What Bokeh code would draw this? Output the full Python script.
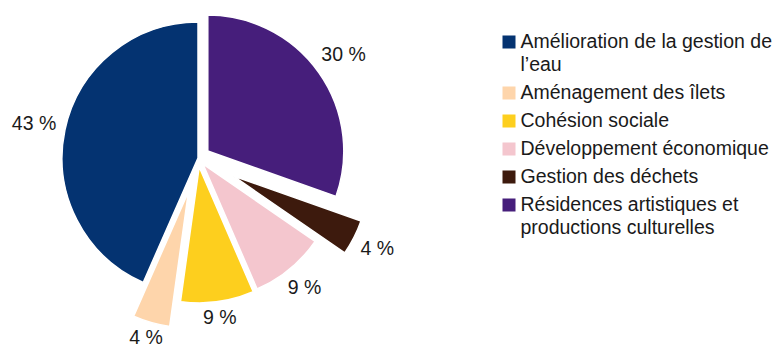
import math
import textwrap
from bokeh.plotting import figure
from bokeh.models import Range1d, ColumnDataSource
from bokeh.core.properties import value
from bokeh.embed import file_html
from bokeh.resources import INLINE

# ---- data ----
categories = [
    "Amélioration de la gestion de l’eau",
    "Aménagement des îlets",
    "Cohésion sociale",
    "Développement économique",
    "Gestion des déchets",
    "Résidences artistiques et productions culturelles",
]
shares = [43.4, 4.4, 8.7, 8.9, 4.2, 30.4]

# ---- style ----
colors = ["#043371", "#fed5ab", "#fdcf1e", "#f4c6ce", "#3d1a0d", "#461e7b"]
explode = [0, 35, 9, 8, 39, 12]   # px offset of each slice
W, H = 781, 349
FONT = "Liberation Sans"
TXT = "#1a1a1a"
cx, cy, R = 197.5, 349 - 157.5, 136
label_fs = 19.5
gap = 8

p = figure(width=W, height=H, output_backend="svg", toolbar_location=None,
           x_range=Range1d(0, W), y_range=Range1d(349 - H, 349),
           min_border=0, outline_line_color=None)
p.axis.visible = False
p.grid.visible = False
p.background_fill_color = "white"
p.border_fill_color = "white"

total = sum(shares)
start = math.pi / 2
xs, ys, sa, ea, lx, ly, lt = [], [], [], [], [], [], []
for v, d in zip(shares, explode):
    span = v / total * 2 * math.pi
    mid = start + span / 2
    ux, uy = math.cos(mid), math.sin(mid)
    x0, y0 = cx + d * ux, cy + d * uy
    xs.append(x0); ys.append(y0)
    sa.append(start); ea.append(start + span)
    txt = f"{round(v / total * 100)} %"
    w = 0.58 * label_fs * len(txt)
    h = 0.68 * label_fs
    ext = abs(ux) * w / 2 + abs(uy) * h / 2
    rl = R + gap + ext
    yy = max(y0 + rl * uy + 1, 349 - H + 0.62 * label_fs)  # keep inside canvas
    lx.append(x0 + rl * ux); ly.append(yy); lt.append(txt)
    start += span

src = ColumnDataSource(dict(x=xs, y=ys, sa=sa, ea=ea, color=colors))
p.wedge(x="x", y="y", radius=R, start_angle="sa", end_angle="ea",
        fill_color="color", line_color="white", line_width=1.5, source=src)

p.text(x=lx, y=ly, text=lt, text_font=value(FONT), text_font_size=f"{label_fs}px",
       text_align="center", text_baseline="middle", text_color=TXT)

# ---- legend (manual, wrapped) ----
leg_x_sq, leg_x_txt = 508.5, 520
line_h, spacing, sq = 23, 5, 13
yline = 41.5  # screen y of first line center
sqx, sqy, sqc, tx, ty, tt = [], [], [], [], [], []
for name, c in zip(categories, colors):
    lines = textwrap.wrap(name, width=29)
    sqx.append(leg_x_sq); sqy.append(349 - yline); sqc.append(c)
    for i, ln in enumerate(lines):
        tx.append(leg_x_txt); ty.append(349 - (yline - 1 + i * line_h)); tt.append(ln)
    yline += len(lines) * line_h + spacing

p.rect(x=sqx, y=sqy, width=sq, height=sq, fill_color=sqc, line_color=None)
p.text(x=tx, y=ty, text=tt, text_font=value(FONT), text_font_size="19.5px",
       text_align="left", text_baseline="middle", text_color=TXT)

open("out.html", "w").write(file_html(p, INLINE))
